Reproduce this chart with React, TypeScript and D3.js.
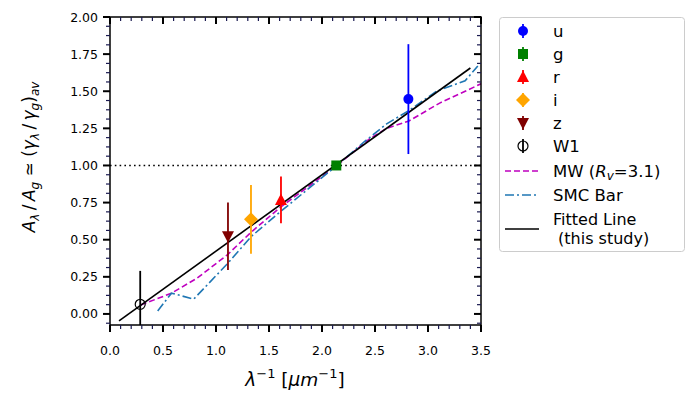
import React from "react";
import * as d3 from "d3";

const bandNames = ["u", "g", "r", "i", "z", "W1"];
const bandX = [2.815, 2.135, 1.613, 1.33, 1.113, 0.285];
const bandY = [1.447, 1.0, 0.768, 0.637, 0.523, 0.065];
const bandErr = [0.37, 0.02, 0.157, 0.232, 0.227, 0.225];
const bandColors = ["blue", "green", "red", "orange", "#800000", "black"];
const bandShapes = ["circle", "square", "triUp", "diamond", "triDown", "open"];

const mwX = [0.29, 0.58, 0.82, 1.11, 1.33, 1.61, 2.14, 2.45, 2.61, 2.82, 3.11, 3.5];
const mwY = [0.06, 0.14, 0.24, 0.4, 0.55, 0.72, 1.0, 1.18, 1.25, 1.3, 1.42, 1.55];

const smcX = [0.45, 0.58, 0.79, 1.11, 1.33, 1.61, 2.14, 2.4, 2.61, 2.82, 3.08, 3.35, 3.47];
const smcY = [0.02, 0.14, 0.1, 0.34, 0.52, 0.69, 1.0, 1.16, 1.28, 1.37, 1.5, 1.57, 1.67];

const fitX = [0.085, 3.4];
const fitSlope = 0.514;
const fitIntercept = -0.091;

const xTicks = [0, 0.5, 1, 1.5, 2, 2.5, 3, 3.5];
const yTicks = [0, 0.25, 0.5, 0.75, 1, 1.25, 1.5, 1.75, 2];

const L = 110, R = 481, T = 17, B = 325;
const FONT = "DejaVu Sans";

function Marker({ shape, color, x, y, s = 1 }: any) {
  if (shape === "circle") return <circle cx={x} cy={y} r={5 * s} fill={color} />;
  if (shape === "open") return <circle cx={x} cy={y} r={5 * s} fill="none" stroke={color} strokeWidth={1.2} />;
  if (shape === "square") return <rect x={x - 5 * s} y={y - 5 * s} width={10 * s} height={10 * s} fill={color} />;
  if (shape === "triUp")
    return <path d={`M${x},${y - 6.5 * s}L${x + 6 * s},${y + 5 * s}L${x - 6 * s},${y + 5 * s}Z`} fill={color} />;
  if (shape === "triDown")
    return <path d={`M${x},${y + 6.5 * s}L${x + 6 * s},${y - 5 * s}L${x - 6 * s},${y - 5 * s}Z`} fill={color} />;
  if (shape === "diamond")
    return <path d={`M${x},${y - 7 * s}L${x + 7 * s},${y}L${x},${y + 7 * s}L${x - 7 * s},${y}Z`} fill={color} />;
  return null;
}

export default function App() {
  const x = d3.scaleLinear().domain([0, 3.5]).range([L, R]);
  const y = d3.scaleLinear().domain([-0.0745, 2.0]).range([B, T]);
  const xMinor = d3.range(0, 3.5001, 0.1).filter((v) => Math.abs(v * 2 - Math.round(v * 2)) > 1e-6);
  const yMinor = d3.range(-0.0625, 2.0001, 0.0625).filter((v) => Math.abs(v * 4 - Math.round(v * 4)) > 1e-6);

  const line = d3.line<[number, number]>().x((d) => x(d[0])).y((d) => y(d[1]));
  const mw = line(mwX.map((v, i) => [v, mwY[i]]));
  const smc = line(smcX.map((v, i) => [v, smcY[i]]));
  const fit = line(fitX.map((v) => [v, fitSlope * v + fitIntercept]));

  const minorColor = "#1a1a50";
  const legY = [31, 54, 77, 100, 123, 146];
  const LF = 16.5;

  return (
    <svg width={695} height={407} style={{ position: "absolute", left: 0, top: 0 }} fontFamily={FONT}>
      <rect width={695} height={407} fill="white" />
      <defs>
        <clipPath id="plotclip">
          <rect x={L} y={T} width={R - L} height={B - T} />
        </clipPath>
      </defs>
      <g clipPath="url(#plotclip)">
        <line x1={L} x2={R} y1={y(1)} y2={y(1)} stroke="black" strokeWidth={1.6} strokeDasharray="1.6,3.2" />
        <path d={mw || ""} fill="none" stroke="#bf00bf" strokeWidth={1.6} strokeDasharray="6,3" />
        <path d={smc || ""} fill="none" stroke="#1f77b4" strokeWidth={1.6} strokeDasharray="9,3,2,3" />
        <path d={fit || ""} fill="none" stroke="black" strokeWidth={1.6} />
        {bandNames.map((n, i) => (
          <g key={n}>
            <line x1={x(bandX[i])} x2={x(bandX[i])} y1={y(bandY[i] - bandErr[i])} y2={y(bandY[i] + bandErr[i])} stroke={bandColors[i]} strokeWidth={1.8} />
            <Marker shape={bandShapes[i]} color={bandColors[i]} x={x(bandX[i])} y={y(bandY[i])} />
          </g>
        ))}
      </g>
      {/* axes frame */}
      <rect x={L} y={T} width={R - L} height={B - T} fill="none" stroke="black" strokeWidth={1.5} />
      {/* x ticks */}
      {xTicks.map((t) => (
        <g key={"xt" + t}>
          <line x1={x(t)} x2={x(t)} y1={B} y2={B + 7} stroke="black" strokeWidth={2} />
          <line x1={x(t)} x2={x(t)} y1={T} y2={T + 7} stroke="black" strokeWidth={2} />
          <text x={x(t)} y={355} fontSize={12.5} textAnchor="middle">{t.toFixed(1)}</text>
        </g>
      ))}
      {xMinor.map((t) => (
        <g key={"xm" + t}>
          <line x1={x(t)} x2={x(t)} y1={B} y2={B + 4} stroke={minorColor} strokeWidth={1.2} />
          <line x1={x(t)} x2={x(t)} y1={T} y2={T + 4} stroke={minorColor} strokeWidth={1.2} />
        </g>
      ))}
      {yTicks.map((t) => (
        <g key={"yt" + t}>
          <line x1={L - 7} x2={L} y1={y(t)} y2={y(t)} stroke="black" strokeWidth={2} />
          <line x1={R - 7} x2={R} y1={y(t)} y2={y(t)} stroke="black" strokeWidth={2} />
          <text x={98} y={y(t) + 4.5} fontSize={12.5} textAnchor="end">{t.toFixed(2)}</text>
        </g>
      ))}
      {yMinor.map((t) => (
        <g key={"ym" + t}>
          <line x1={L - 4} x2={L} y1={y(t)} y2={y(t)} stroke={minorColor} strokeWidth={1.2} />
          <line x1={R - 4} x2={R} y1={y(t)} y2={y(t)} stroke={minorColor} strokeWidth={1.2} />
        </g>
      ))}
      {/* x label */}
      <text x={295} y={386} fontSize={18.5} textAnchor="middle">
        <tspan fontStyle="italic">λ</tspan>
        <tspan fontSize={13} dy={-8}>−1</tspan>
        <tspan dy={8}> [</tspan>
        <tspan fontStyle="italic">μm</tspan>
        <tspan fontSize={13} dy={-8}>−1</tspan>
        <tspan dy={8}>]</tspan>
      </text>
      {/* y label */}
      <text transform="translate(35,157) rotate(-90)" fontSize={17} textAnchor="middle">
        <tspan fontStyle="italic">A</tspan>
        <tspan fontStyle="italic" fontSize={12} dy={4}>λ</tspan>
        <tspan dy={-4}>{"\u2009/\u2009"}</tspan>
        <tspan fontStyle="italic">A</tspan>
        <tspan fontStyle="italic" fontSize={12} dy={4}>g</tspan>
        <tspan dy={-4}>{" ≃ ("}</tspan>
        <tspan fontStyle="italic">γ</tspan>
        <tspan fontStyle="italic" fontSize={12} dy={4}>λ</tspan>
        <tspan dy={-4}>{"\u2009/\u2009"}</tspan>
        <tspan fontStyle="italic">γ</tspan>
        <tspan fontStyle="italic" fontSize={12} dy={4}>g</tspan>
        <tspan dy={-4}>)</tspan>
        <tspan fontStyle="italic" fontSize={12} dy={4}>av</tspan>
      </text>
      {/* legend */}
      <rect x={499.5} y={17.5} width={185} height={234} rx={3} fill="white" stroke="#cccccc" strokeWidth={1} />
      {bandNames.map((n, i) => (
        <g key={"leg" + n}>
          <line x1={523} x2={523} y1={legY[i] - 7} y2={legY[i] + 7} stroke={bandColors[i]} strokeWidth={1.8} />
          <Marker shape={bandShapes[i]} color={bandColors[i]} x={523} y={legY[i]} />
          <text x={553} y={legY[i] + 6} fontSize={LF}>{n}</text>
        </g>
      ))}
      <line x1={505} x2={539} y1={171} y2={171} stroke="#bf00bf" strokeWidth={1.6} strokeDasharray="6,3" />
      <text x={553} y={177} fontSize={LF}>
        MW (<tspan fontStyle="italic">R</tspan>
        <tspan fontStyle="italic" fontSize={12} dy={3}>v</tspan>
        <tspan dy={-3}>=3.1)</tspan>
      </text>
      <line x1={505} x2={539} y1={195} y2={195} stroke="#1f77b4" strokeWidth={1.6} strokeDasharray="9,3,2,3" />
      <text x={553} y={200.5} fontSize={LF}>SMC Bar</text>
      <line x1={505} x2={539} y1={229} y2={229} stroke="black" strokeWidth={1.6} />
      <text x={553} y={224.5} fontSize={16}>Fitted Line</text>
      <text x={553} y={243.5} fontSize={16}>{"\u00a0(this study)"}</text>
    </svg>
  );
}
